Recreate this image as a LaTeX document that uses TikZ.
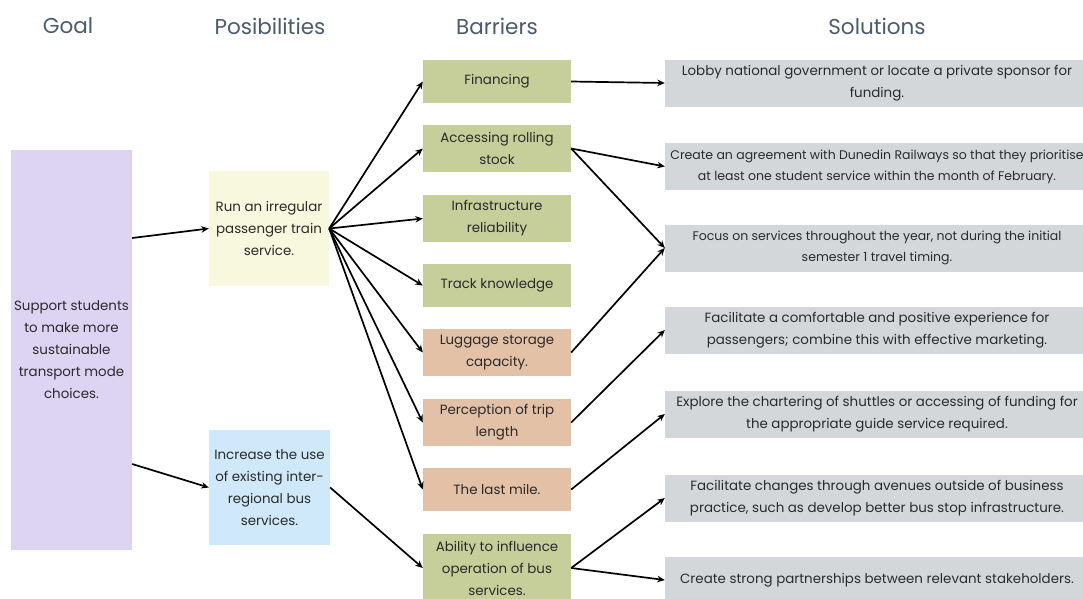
\documentclass[tikz,border=0pt]{standalone}
\usepackage{fontspec}
\setmainfont{Poppins}
\usetikzlibrary{arrows.meta}
\definecolor{lavender}{HTML}{DDD3F3}
\definecolor{paleyellow}{HTML}{F7F8DD}
\definecolor{paleblue}{HTML}{CFE9FA}
\definecolor{sage}{HTML}{C6CE9A}
\definecolor{peach}{HTML}{E3C1A6}
\definecolor{lightgray}{HTML}{D4D7DA}
\definecolor{slate}{HTML}{4A5B6C}
\definecolor{ink}{HTML}{2A2A2A}
\tikzset{
  heading/.style={text=slate, font=\fontsize{21.5}{24}\selectfont},
  box/.style={inner sep=0pt, align=center, text=ink, font=\fontsize{13.4}{22}\selectfont},
  small/.style={font=\fontsize{12.5}{21}\selectfont},
  goalbox/.style={box, fill=lavender, minimum width=121pt, minimum height=400pt},
  trainbox/.style={box, fill=paleyellow, minimum width=120pt, minimum height=115pt},
  busbox/.style={box, fill=paleblue, minimum width=121pt, minimum height=115pt},
  barrier/.style={box, minimum width=148pt},
  solution/.style={box, fill=lightgray, minimum width=424pt, minimum height=47pt},
  link/.style={-{Stealth[length=7.5pt,width=6.5pt]}, line width=1.7pt}
}

\begin{document}
\begin{tikzpicture}[x=1pt, y=-1pt]
    \useasboundingbox (0,0) rectangle (1083,598);

    % column headings
    \node[heading] (hgoal) at (68,26) {Goal};
    \node[heading] (hposs) at (270,26) {Posibilities};
    \node[heading] (hbarr) at (497,26) {Barriers};
    \node[heading] (hsol) at (877,26) {Solutions};

    % goal and possibilities
    \node[goalbox] (goal) at (71.5,350) {Support students\\to make more\\sustainable\\transport mode\\choices.};
    \node[trainbox] (train) at (269,228.5) {Run an irregular\\passenger train\\service.};
    \node[busbox] (bus) at (269.5,487.5) {Increase the use\\of existing inter-\\regional bus\\services.};

    % barriers
    \node[barrier, fill=sage, minimum height=43pt] (fin) at (497,81.5) {Financing};
    \node[barrier, fill=sage, minimum height=47pt] (stock) at (497,148.5) {Accessing rolling\\stock};
    \node[barrier, fill=sage, minimum height=47pt] (infra) at (497,218.5) {Infrastructure\\reliability};
    \node[barrier, fill=sage, minimum height=43pt] (track) at (497,285.5) {Track knowledge};
    \node[barrier, fill=peach, minimum height=47pt] (lugg) at (497,352.5) {Luggage storage\\capacity.};
    \node[barrier, fill=peach, minimum height=47pt] (trip) at (497,422.5) {Perception of trip\\length};
    \node[barrier, fill=peach, minimum height=43pt] (mile) at (497,489.5) {The last mile.};
    \node[barrier, fill=sage, minimum height=68pt] (influence) at (497,568) {Ability to influence\\operation of bus\\services.};

    % solutions
    \node[solution] (funding) at (877,83) {Lobby national government or locate a private sponsor for\\funding.};
    \node[solution, small] (agreement) at (877,166.5) {Create an agreement with Dunedin Railways so that they prioritise\\at least one student service within the month of February.};
    \node[solution, small] (yearround) at (877,248) {Focus on services throughout the year, not during the initial\\semester 1 travel timing.};
    \node[solution] (comfort) at (877,330) {Facilitate a comfortable and positive experience for\\passengers; combine this with effective marketing.};
    \node[solution] (shuttle) at (877,414) {Explore the chartering of shuttles or accessing of funding for\\the appropriate guide service required.};
    \node[solution] (avenues) at (877,498) {Facilitate changes through avenues outside of business\\practice, such as develop better bus stop infrastructure.};
    \node[solution] (partners) at (877,580) {Create strong partnerships between relevant stakeholders.};

    % goal to possibilities
    \draw[link] ([yshift=112pt]goal.east) -- (train.west);
    \draw[link] ([yshift=-114pt]goal.east) -- (bus.west);

    % possibilities to barriers
    \foreach \b in {fin,stock,infra,track,lugg,trip,mile}
        \draw[link] (train.east) -- (\b.west);
    \draw[link] (bus.east) -- (influence.west);

    % barriers to solutions
    \draw[link] (fin.east) -- (funding.west);
    \draw[link] (stock.east) -- (agreement.west);
    \draw[link] (stock.east) -- (yearround.west);
    \draw[link] (lugg.east) -- (yearround.west);
    \draw[link] (trip.east) -- (comfort.west);
    \draw[link] (mile.east) -- (shuttle.west);
    \draw[link] (influence.east) -- (avenues.west);
    \draw[link] (influence.east) -- (partners.west);
\end{tikzpicture}
\end{document}
